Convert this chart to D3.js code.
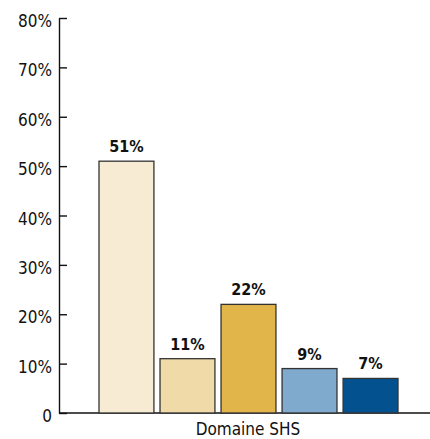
<!DOCTYPE html>
<html><head><meta charset="utf-8">
<script src="https://cdn.jsdelivr.net/npm/d3@7"></script>
<style>
body{margin:0;background:#fff;}
text{font-family:"DejaVu Sans Condensed","DejaVu Sans",sans-serif;font-stretch:condensed;}
</style></head>
<body><svg id="c" width="430" height="439"></svg>
<script>
const categories = ["A","B","C","D","E"];
const values = [0.51, 0.11, 0.22, 0.09, 0.07];
const colors = ["#F7EBD4","#F0DAA7","#E1B54A","#7FA9CD","#03518F"];
const yTicks = [0,0.1,0.2,0.3,0.4,0.5,0.6,0.7,0.8];
const groupLabel = "Domaine SHS";

const svg = d3.select("#c");
const y = d3.scaleLinear().domain([0,0.8]).range([413,18]);
const x = d3.scaleBand().domain(categories).range([99,398]).paddingInner(0.1);

const ax = svg.append("g").attr("transform","translate(59,0)")
  .call(d3.axisLeft(y).tickValues(yTicks).tickSizeInner(-8).tickSizeOuter(0).tickPadding(7)
    .tickFormat(d => d===0 ? "0" : Math.round(d*100)+"%"));
ax.selectAll("path,line").attr("stroke","#111").attr("stroke-width",1.4);
ax.selectAll("text").attr("font-size",17).attr("fill","#111").attr("dy","0.5em")
  .style("font-family","'DejaVu Sans Condensed','DejaVu Sans',sans-serif");

svg.append("line").attr("x1",59).attr("x2",430).attr("y1",y(0)).attr("y2",y(0))
  .attr("stroke","#111").attr("stroke-width",1.4);

svg.selectAll("rect.bar").data(values).join("rect").attr("class","bar")
  .attr("x",(d,i)=>x(categories[i])).attr("width",x.bandwidth())
  .attr("y",d=>y(d)).attr("height",d=>y(0)-y(d))
  .attr("fill",(d,i)=>colors[i]).attr("stroke","#333").attr("stroke-width",1.3);

svg.selectAll("text.val").data(values).join("text").attr("class","val")
  .attr("x",(d,i)=>x(categories[i])+x.bandwidth()/2).attr("y",d=>y(d)-9)
  .attr("text-anchor","middle").attr("font-weight","bold").attr("font-size",16).attr("fill","#111")
  .text(d=>Math.round(d*100)+"%");

svg.append("text").attr("x",248).attr("y",435).attr("text-anchor","middle")
  .attr("font-size",17).attr("fill","#111").text(groupLabel);
</script></body></html>
